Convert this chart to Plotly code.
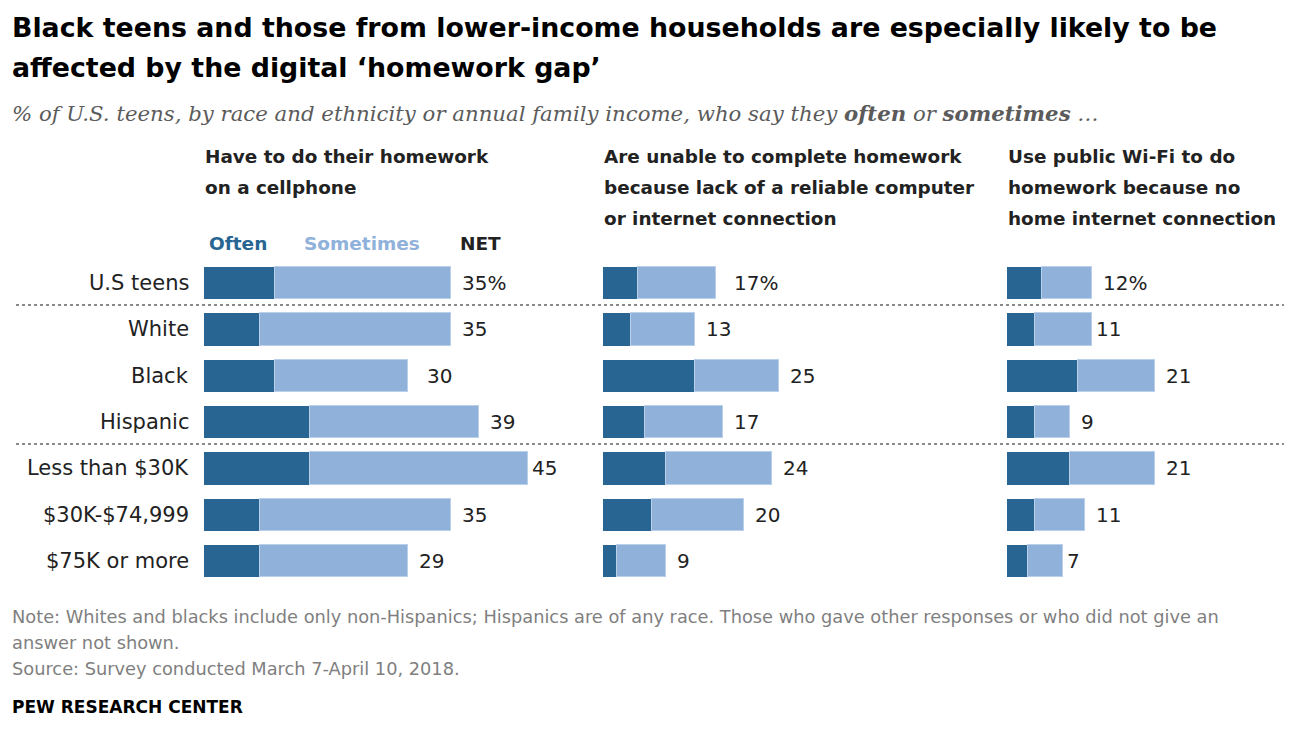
import plotly.graph_objects as go

W, H = 1312, 734
OFF = 8  # page body margin
FW, FH = W - 2 * OFF, H - 2 * OFF

# ---------------- data ----------------
categories = ["U.S teens", "White", "Black", "Hispanic",
              "Less than $30K", "$30K-$74,999", "$75K or more"]

panel_titles = [
    ["Have to do their homework", "on a cellphone"],
    ["Are unable to complete homework", "because lack of a reliable computer",
     "or internet connection"],
    ["Use public Wi-Fi to do", "homework because no", "home internet connection"],
]

often_cell = [10, 8, 10, 15, 15, 8, 8]
sometimes_cell = [25, 27, 19, 24, 31, 27, 21]
net_cell = [35, 35, 30, 39, 45, 35, 29]

often_unable = [5, 4, 13, 6, 9, 7, 2]
sometimes_unable = [11, 9, 12, 11, 15, 13, 7]
net_unable = [17, 13, 25, 17, 24, 20, 9]

often_wifi = [5, 4, 10, 4, 9, 4, 3]
sometimes_wifi = [7, 8, 11, 5, 12, 7, 5]
net_wifi = [12, 11, 21, 9, 21, 11, 7]

legend_labels = ["Often", "Sometimes", "NET"]

title_lines = ["Black teens and those from lower-income households are especially likely to be",
               "affected by the digital \u2018homework gap\u2019"]
subtitle = ("% of U.S. teens, by race and ethnicity or annual family income, who say they "
            "<b>often</b> or <b>sometimes</b> \u2026")
note_lines = ["Note: Whites and blacks include only non-Hispanics; Hispanics are of any race. "
              "Those who gave other responses or who did not give an",
              "answer not shown.",
              "Source: Survey conducted March 7-April 10, 2018."]
credit = "PEW RESEARCH CENTER"

# ---------------- styling ----------------
DARK = "#296593"
LIGHT = "#8fb1da"
TEXT = "#222222"
GREY = "#7f7f7f"
SANS = "DejaVu Sans, Arial, sans-serif"
SERIF = "DejaVu Serif, Georgia, serif"

PX_PER_UNIT = 7.05
panel_starts = [204, 603, 1007]
panel_ranges = [55, 55, 40]


def px(x):
    return (x - OFF) / FW


def py(y):
    return 1 - (y - OFF) / FH


panels = [
    (often_cell, sometimes_cell, net_cell),
    (often_unable, sometimes_unable, net_unable),
    (often_wifi, sometimes_wifi, net_wifi),
]

fig = go.Figure()
rows = list(range(len(categories)))
annotations = []

for k, (often, some, net) in enumerate(panels):
    xa = "x" if k == 0 else f"x{k+1}"
    fig.add_trace(go.Bar(x=often, y=rows, orientation="h", xaxis=xa, yaxis="y",
                         marker=dict(color=DARK, line=dict(width=0)), width=0.7,
                         showlegend=False, hoverinfo="x"))
    fig.add_trace(go.Bar(x=some, y=rows, orientation="h", xaxis=xa, yaxis="y",
                         marker=dict(color=LIGHT, line=dict(color="#b9cfea", width=1)),
                         width=0.7, showlegend=False, hoverinfo="x"))
    for i, v in enumerate(net):
        annotations.append(dict(x=v, y=i, xref=xa, yref="y", text=f"{v}%" if i == 0 else str(v),
                                xanchor="left", yanchor="middle", xshift=9, showarrow=False,
                                font=dict(family=SANS, size=20, color=TEXT)))
    for j, line in enumerate(panel_titles[k]):
        annotations.append(dict(x=px(panel_starts[k] - 1), y=py(156 + 31 * j), xref="paper",
                                yref="paper", text=f"<b>{line}</b>", xanchor="left",
                                yanchor="middle", showarrow=False,
                                font=dict(family=SANS, size=18.4, color=TEXT)))

# category labels
for i, c in enumerate(categories):
    annotations.append(dict(x=px(191), y=i, xref="paper", yref="y", text=c, xanchor="right",
                            yanchor="middle", showarrow=False,
                            font=dict(family=SANS, size=21, color=TEXT)))

# legend row
for lab, xpos, col in zip(legend_labels, [207, 302, 458], [DARK, LIGHT, TEXT]):
    annotations.append(dict(x=px(xpos), y=py(244), xref="paper", yref="paper",
                            text=f"<b>{lab}</b>", xanchor="left", yanchor="middle",
                            showarrow=False, font=dict(family=SANS, size=18.5, color=col)))

# title
for j, line in enumerate(title_lines):
    annotations.append(dict(x=px(10), y=py(27 + 41 * j), xref="paper", yref="paper",
                            text=f"<b>{line}</b>", xanchor="left", yanchor="middle",
                            showarrow=False, font=dict(family=SANS, size=26.8, color="#000000")))
annotations.append(dict(x=px(10), y=py(113), xref="paper", yref="paper",
                        text=f"<i>{subtitle}</i>", xanchor="left", yanchor="middle",
                        showarrow=False, font=dict(family=SERIF, size=21.25, color="#5b5b5b")))

for j, line in enumerate(note_lines):
    annotations.append(dict(x=px(10), y=py(616 + 26 * j), xref="paper", yref="paper",
                            text=line, xanchor="left", yanchor="middle", showarrow=False,
                            font=dict(family=SANS, size=17.8, color=GREY)))
annotations.append(dict(x=px(10), y=py(707), xref="paper", yref="paper",
                        text=f"<b>{credit}</b>", xanchor="left", yanchor="middle",
                        showarrow=False, font=dict(family=SANS, size=17, color="#000000")))

shapes = []
for yy in [305, 444]:
    shapes.append(dict(type="line", xref="paper", yref="paper", x0=px(16), x1=px(1284),
                       y0=py(yy), y1=py(yy), line=dict(color="#8a8a8a", width=2, dash="dot")))

row_h = 46.33
y_top = 283 - row_h / 2
y_bot = 561 + row_h / 2

layout_axes = {}
for k in range(3):
    name = "xaxis" if k == 0 else f"xaxis{k+1}"
    x0 = panel_starts[k]
    x1 = x0 + panel_ranges[k] * PX_PER_UNIT
    layout_axes[name] = dict(domain=[px(x0), px(x1)], range=[0, panel_ranges[k]], anchor="y",
                             visible=False, fixedrange=True)

fig.update_layout(
    width=FW, height=FH, margin=dict(l=0, r=0, t=0, b=0),
    paper_bgcolor="white", plot_bgcolor="white",
    barmode="stack", bargap=0,
    yaxis=dict(domain=[py(y_bot), py(y_top)], range=[len(categories) - 0.5, -0.5],
               visible=False, fixedrange=True),
    annotations=annotations, shapes=shapes,
    **layout_axes,
)

fig.write_html("out.html")
